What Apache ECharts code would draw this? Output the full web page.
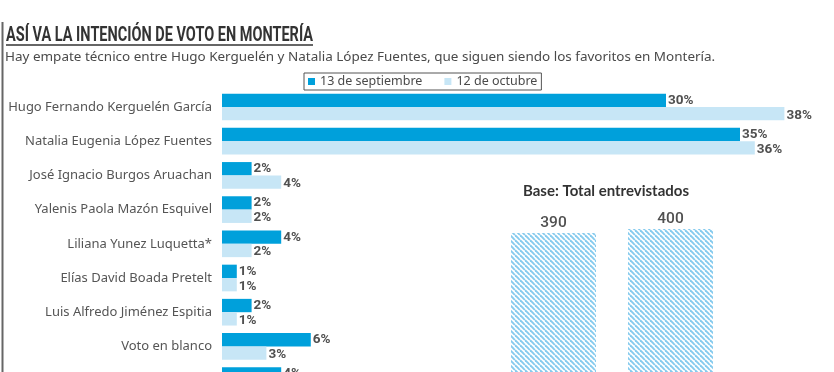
<!DOCTYPE html>
<html><head><meta charset="utf-8">
<script src="https://cdn.jsdelivr.net/npm/echarts@6/dist/echarts.min.js"></script>
<style>html,body{margin:0;padding:0;background:#fff;overflow:hidden;height:372px}#c{width:834px;height:410px}</style>
</head><body><div id="c"></div>
<script>
// ---- data ----
const titleText = "ASÍ VA LA INTENCIÓN DE VOTO EN MONTERÍA";
const subtitleText = "Hay empate técnico entre Hugo Kerguelén y Natalia López Fuentes, que siguen siendo los favoritos en Montería.";
const categories = [
  "Hugo Fernando Kerguelén García",
  "Natalia Eugenia López Fuentes",
  "José Ignacio Burgos Aruachan",
  "Yalenis Paola Mazón Esquivel",
  "Liliana Yunez Luquetta*",
  "Elías David Boada Pretelt",
  "Luis Alfredo Jiménez Espitia",
  "Voto en blanco",
  "No sabe / No responde"
];
const seriesNames = ["13 de septiembre", "12 de octubre"];
const sep13 = [30, 35, 2, 2, 4, 1, 2, 6, 4];
const oct12 = [38, 36, 4, 2, 2, 1, 1, 3, 5];
const baseTitle = "Base: Total entrevistados";
const baseCategories = ["13 de septiembre", "12 de octubre"];
const baseValues = [390, 400];

// ---- styles ----
const DARK = '#00A0DB', LIGHT = '#C7E6F6';
const COND = 'Roboto,sans-serif';
const SANS = '"Noto Sans","Open Sans",sans-serif';

const mctx = document.createElement('canvas').getContext('2d');
function measure(text, font){ mctx.font = font; return mctx.measureText(text).width; }
const titleScale = 307 / measure(titleText, 'bold 20px Roboto');
const baseScale = 166 / measure(baseTitle, 'bold 15px Lato');
const subSize = 12 * 711 / measure(subtitleText, '12px "Noto Sans"');

// hatch pattern
const pat = document.createElement('canvas'); pat.width = 5; pat.height = 5;
const pc = pat.getContext('2d');
pc.fillStyle = '#fff'; pc.fillRect(0, 0, 5, 5);
pc.strokeStyle = '#86CBEE'; pc.lineWidth = 1.9;
for (let k = -5; k <= 5; k += 5) { pc.beginPath(); pc.moveTo(k, 0); pc.lineTo(k + 5, 5); pc.stroke(); }

const chart = echarts.init(document.getElementById('c'), null, {renderer: 'canvas'});
const valLabel = {
  show: true, position: 'right', distance: 2, formatter: '{c}%',
  fontFamily: COND, fontWeight: 'bold', fontSize: 13.5, color: '#505050'
};
chart.setOption({
  animation: false,
  backgroundColor: '#fff',
  title: [{
    text: subtitleText, left: 5, top: 51, padding: 0,
    textStyle: {fontSize: subSize, fontWeight: 'normal', color: '#4a4a4a', fontFamily: SANS}
  }],
  legend: {
    data: seriesNames, left: 304, top: 73, padding: [2, 4, 2, 4],
    itemWidth: 7, itemHeight: 7, itemGap: 22, icon: 'rect',
    borderColor: '#555', borderWidth: 1,
    textStyle: {fontSize: 12.5, color: '#4a4a4a', fontFamily: SANS}
  },
  graphic: [
    {type: 'line', shape: {x1: 2.5, y1: 22, x2: 2.5, y2: 372}, style: {stroke: '#666', lineWidth: 2}},
    {type: 'text', x: 6, y: 26, scaleX: titleScale,
      style: {text: titleText, font: 'bold 20px Roboto', fill: '#333', textVerticalAlign: 'top'}},
    {type: 'line', shape: {x1: 6, y1: 45, x2: 313, y2: 45}, style: {stroke: '#333', lineWidth: 1.5}},
    {type: 'text', x: 606, y: 184, scaleX: baseScale,
      style: {text: baseTitle, font: 'bold 15px Lato', fill: '#333', textAlign: 'center', textVerticalAlign: 'top'}}
  ],
  grid: [
    {left: 222, top: 89.9, width: 592, height: 307.8},
    {left: 495, top: 229, width: 234, height: 160}
  ],
  xAxis: [
    {type: 'value', gridIndex: 0, min: 0, max: 40, show: false},
    {type: 'category', gridIndex: 1, data: baseCategories, show: false}
  ],
  yAxis: [
    {type: 'category', gridIndex: 0, data: categories, inverse: true,
      axisLine: {show: false}, axisTick: {show: false}, splitLine: {show: false},
      axisLabel: {margin: 10, color: '#555', fontSize: 13, fontFamily: SANS}},
    {type: 'value', gridIndex: 1, min: 0, max: 400, show: false}
  ],
  series: [
    {name: seriesNames[0], type: 'bar', xAxisIndex: 0, yAxisIndex: 0, data: sep13,
      barGap: 0, barCategoryGap: '22%', itemStyle: {color: DARK}, label: valLabel},
    {name: seriesNames[1], type: 'bar', xAxisIndex: 0, yAxisIndex: 0, data: oct12,
      barGap: 0, barCategoryGap: '22%', itemStyle: {color: LIGHT},
      label: Object.assign({}, valLabel, {offset: [0, 1.5]})},
    {name: 'Base', type: 'bar', xAxisIndex: 1, yAxisIndex: 1, data: baseValues, barWidth: 85,
      itemStyle: {color: {image: pat, repeat: 'repeat'}},
      label: {show: true, position: 'top', distance: 2, fontFamily: COND, fontWeight: 500, fontSize: 15.5, color: '#505050'}}
  ]
});
</script></body></html>
